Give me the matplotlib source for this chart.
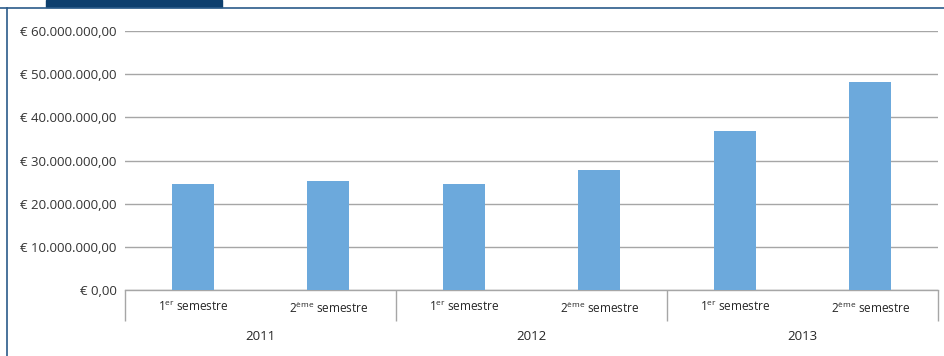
import matplotlib
matplotlib.use("Agg")
import matplotlib.pyplot as plt
from matplotlib.patches import Rectangle
from matplotlib.lines import Line2D
from matplotlib.ticker import FuncFormatter, FixedLocator

plt.rcParams["font.family"] = ["Open Sans", "DejaVu Sans"]
plt.rcParams["mathtext.fontset"] = "custom"
plt.rcParams["mathtext.rm"] = "Open Sans"

# Data
years = ["2011", "2012", "2013"]
semesters = [r"1$^{\mathrm{er}}$ semestre", r"2$^{\mathrm{ème}}$ semestre"]
values = [24.6e6, 25.2e6, 24.6e6, 27.9e6, 36.9e6, 48.3e6]
y_ticks = [0, 10e6, 20e6, 30e6, 40e6, 50e6, 60e6]

BAR = "#6CA9DC"
GRID = "#a6a6a6"
NAVY = "#0d3f6e"
FRAME = "#2b5b8a"
TXT = "#262626"

fig = plt.figure(figsize=(9.44, 3.56), dpi=100)
W, H = 944, 356

# page frame: header tab and blue borders
fig.patches.append(Rectangle((46 / W, 1 - 7 / H), (222 - 46) / W, 7 / H,
                             transform=fig.transFigure, color=NAVY, zorder=0))
fig.lines.append(Line2D([0, 1], [1 - 7.5 / H] * 2, transform=fig.transFigure,
                        color=FRAME, lw=1.2))
fig.lines.append(Line2D([7.0 / W] * 2, [0, 1 - 7.5 / H], transform=fig.transFigure,
                        color=FRAME, lw=1.2))

ax = fig.add_axes([125 / W, (H - 290) / H, (938 - 125) / W, (290 - 31) / H])

n = len(values)
x = list(range(n))
ax.bar(x, values, width=0.31, color=BAR, zorder=3)

ax.set_xlim(-0.5, n - 0.5)
ax.set_ylim(0, 60e6)
ax.yaxis.set_major_locator(FixedLocator(y_ticks))


def euro(v, pos):
    s = f"{v:,.2f}".replace(",", " ").replace(".", ",").replace(" ", ".")
    return "€ " + s


ax.yaxis.set_major_formatter(FuncFormatter(euro))
ax.tick_params(axis="y", length=0, pad=6, labelsize=9.5, labelcolor="#333333")
ax.grid(axis="y", color=GRID, lw=1.0, zorder=0)

for s in ["top", "right", "left"]:
    ax.spines[s].set_visible(False)
ax.spines["bottom"].set_color(GRID)
ax.spines["bottom"].set_linewidth(1.0)

# semester labels and group separators
ax.set_xticks(x)
ax.set_xticklabels(semesters * len(years))
ax.tick_params(axis="x", length=0, pad=7, labelsize=8.5, labelcolor=TXT)
ax.set_xticks([-0.5, 1.5, 3.5, 5.5], minor=True)
ax.tick_params(axis="x", which="minor", length=22.5, width=1.0, color=GRID)

# year labels
for i, yr in enumerate(years):
    ax.text(2 * i + 0.5, -47 / 259, yr, transform=ax.get_xaxis_transform(),
            ha="center", va="center", fontsize=9.5, color=TXT)

fig.savefig("out.png", dpi=100)
